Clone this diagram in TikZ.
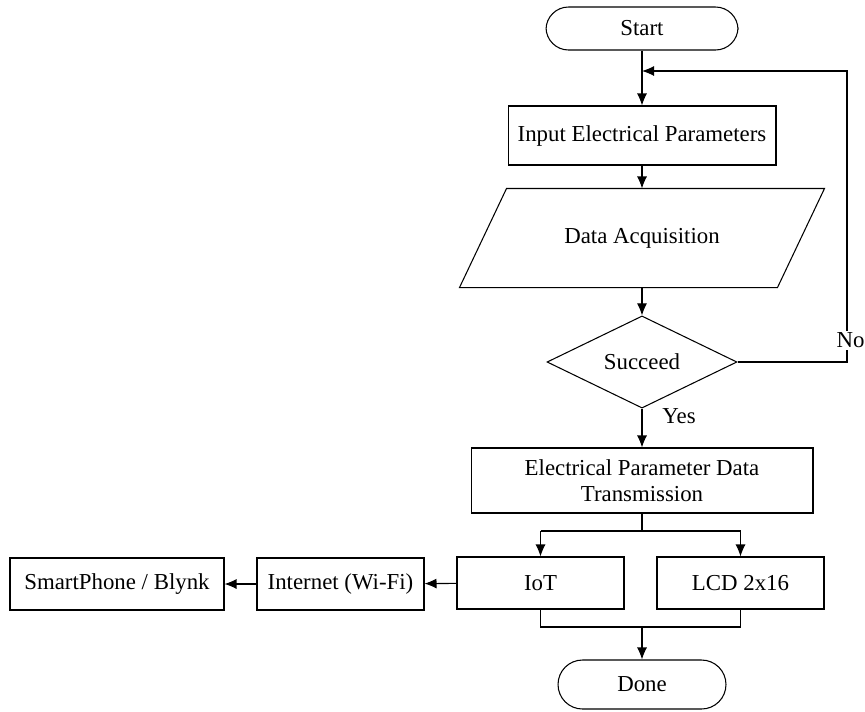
\documentclass[tikz,border=0pt]{standalone}
\usepackage{fontspec}
\setmainfont{Liberation Serif}
\usetikzlibrary{shapes.geometric,arrows.meta,calc}
\begin{document}
\begin{tikzpicture}[x=0.02cm,y=-0.02cm,
  font=\fontsize{13}{15}\selectfont,
  line width=0.6pt,
  >={Latex[length=2.4mm,width=2mm]},
  box/.style={draw,rectangle,inner sep=2pt},
  term/.style={draw,rectangle,rounded corners=0.45cm,minimum width=3.84cm},
  decide/.style={draw,diamond,minimum width=3.8cm,minimum height=1.82cm,inner sep=0pt}]
\useasboundingbox (0,0) rectangle (865,711);

\node[term,minimum height=0.86cm] (start) at (642,28.5) {Start};
\node[box,minimum width=5.36cm,minimum height=1.18cm] (input) at (642,135.5) {Input Electrical Parameters};
\node[minimum width=7.28cm,minimum height=1.96cm,inner sep=0pt] (acq) at (642,238) {Data Acquisition};
\draw ($(acq.north west)+(47,0)$) -- (acq.north east) -- ($(acq.south east)+(-47,0)$) -- (acq.south west) -- cycle;
\node[decide] (succ) at (642,362) {Succeed};
\node[box,align=center,minimum width=6.84cm,minimum height=1.3cm] (trans) at (642,480.5)
  {Electrical Parameter Data\\Transmission};
\node[box,minimum width=3.34cm,minimum height=1.04cm] (iot) at (540.5,583) {IoT};
\node[box,minimum width=3.34cm,minimum height=1.04cm] (lcd) at (740.5,583) {LCD 2x16};
\node[box,minimum width=3.34cm,minimum height=1.04cm] (net) at (340.5,584) {Internet (Wi-Fi)};
\node[box,minimum width=4.28cm,minimum height=1.04cm] (phone) at (117,584) {SmartPhone / Blynk};
\node[term,minimum width=3.36cm,minimum height=0.98cm,rounded corners=0.49cm] (done) at (642,684.5) {Done};

\coordinate (back) at (642,71);
\coordinate (split) at (642,531);
\coordinate (join) at (642,627);

% main flow
\draw[->] (start) -- (input);
\draw[->] (input) -- (acq);
\draw[->] (acq) -- (succ);
\draw[->] (succ) -- node[right=8pt,pos=0.2] (yes) {Yes} (trans);
\draw (trans) -- (split);
\draw[->] (split -| iot) -- (iot);
\draw[->] (split -| lcd) -- (lcd);
\draw (split -| iot) -- (split -| lcd);
\draw (iot) -- (join -| iot) -- (join -| lcd) -- (lcd);
\draw[->] (join) -- (done);

% retry loop
\draw[->] (succ.east) -- (847,362) -- node[pos=0.075,fill=white,inner sep=1pt,xshift=2pt] (no) {No} (847,71) -- (back);

% remote side
\draw[->] (iot) -- (net);
\draw[->] (net) -- (phone);
\end{tikzpicture}
\end{document}
